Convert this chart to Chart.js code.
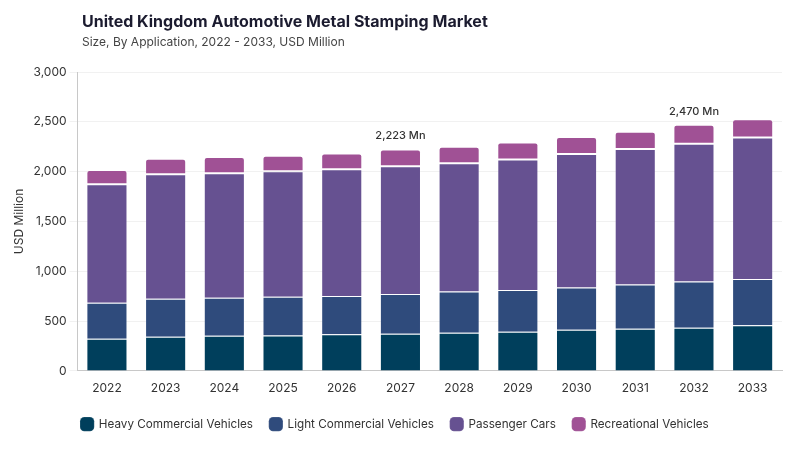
<!DOCTYPE html>
<html>
<head>
<meta charset="utf-8">
<script src="https://cdn.jsdelivr.net/npm/chart.js@4.4.0/dist/chart.umd.min.js"></script>
<style>
    html, body { margin: 0; padding: 0; background: #fff; }
    #wrap { position: relative; width: 800px; height: 450px; }
    #title {
        position: absolute; left: 82px; top: 11px;
        font: 700 16px "Inter", sans-serif; color: #1b1b2f;
    }
    #subtitle {
        position: absolute; left: 82px; top: 34px;
        font: 400 12px "Inter", sans-serif; color: #444;
    }
</style>
</head>
<body>
<div id="wrap">
    <canvas id="chart" width="800" height="450"></canvas>
    <div id="title">United Kingdom Automotive Metal Stamping Market</div>
    <div id="subtitle">Size, By Application, 2022 - 2033, USD Million</div>
</div>
<script>
// --- Data ---
const years = ['2022', '2023', '2024', '2025', '2026', '2027', '2028', '2029', '2030', '2031', '2032', '2033'];
const heavyCommercial = [323, 343, 353, 355, 367, 373, 383, 393, 413, 423, 433, 457];
const lightCommercial = [360, 380, 380, 388, 386, 400, 414, 420, 424, 444, 464, 466];
const passengerCars = [1190, 1250, 1250, 1260, 1270, 1280, 1286, 1310, 1340, 1360, 1383, 1420];
const recreational = [143, 157, 164, 157, 160, 170, 167, 170, 170, 173, 190, 184];
const yTicks = [0, 500, 1000, 1500, 2000, 2500, 3000];
const calloutYears = ['2027', '2032'];
const calloutLabels = ['2,223 Mn', '2,470 Mn'];

const FONT = '"Inter", sans-serif';

// Totals callout above selected bars
const calloutPlugin = {
    id: 'callouts',
    afterDatasetsDraw(chart) {
        const { ctx, scales } = chart;
        ctx.save();
        ctx.font = '500 11px ' + FONT;
        ctx.fillStyle = '#333';
        ctx.textAlign = 'center';
        ctx.textBaseline = 'bottom';
        calloutYears.forEach((yr, k) => {
            const i = years.indexOf(yr);
            const total = heavyCommercial[i] + lightCommercial[i] + passengerCars[i] + recreational[i];
            const x = scales.x.getPixelForValue(i);
            const y = scales.y.getPixelForValue(total) - 8;
            ctx.fillText(calloutLabels[k], x, y);
        });
        ctx.restore();
    }
};

const common = { borderWidth: 1, borderColor: 'rgba(255,255,255,0.15)', barPercentage: 0.7, categoryPercentage: 1 };

new Chart(document.getElementById('chart').getContext('2d'), {
    type: 'bar',
    data: {
        labels: years,
        datasets: [
            { label: 'Heavy Commercial Vehicles', data: heavyCommercial, backgroundColor: '#003f5c', ...common },
            { label: 'Light Commercial Vehicles', data: lightCommercial, backgroundColor: '#2f4b7c', ...common },
            { label: 'Passenger Cars', data: passengerCars, backgroundColor: '#665191', ...common },
            {
                label: 'Recreational Vehicles', data: recreational, backgroundColor: '#a05195', ...common,
                borderRadius: { topLeft: 3, topRight: 3, bottomLeft: 0, bottomRight: 0 },
                borderSkipped: false
            }
        ]
    },
    options: {
        responsive: false,
        animation: false,
        layout: { padding: { top: 72, right: 18, left: 8, bottom: 10 } },
        plugins: {
            legend: {
                position: 'bottom',
                labels: {
                    usePointStyle: true,
                    pointStyle: 'rectRounded',
                    boxWidth: 15,
                    boxHeight: 15,
                    padding: 17,
                    color: '#333',
                    font: { family: FONT, size: 11.7 }
                }
            },
            tooltip: { enabled: false }
        },
        scales: {
            x: {
                stacked: true,
                grid: { display: false },
                border: { color: '#c8c8c8' },
                ticks: { color: '#333', font: { family: FONT, size: 12 }, padding: 2 },
                afterFit(axis) { axis.height += 4; }
            },
            y: {
                stacked: true,
                min: 0,
                max: 3000,
                afterBuildTicks(axis) { axis.ticks = yTicks.map(v => ({ value: v })); },
                grid: { color: '#f1f1f1' },
                border: { color: '#c8c8c8' },
                ticks: {
                    color: '#333',
                    font: { family: FONT, size: 12 },
                    callback: v => v.toLocaleString('en-US')
                },
                title: {
                    display: true,
                    text: 'USD Million',
                    color: '#333',
                    font: { family: FONT, size: 12 }
                }
            }
        }
    },
    plugins: [calloutPlugin]
});
</script>
</body>
</html>
